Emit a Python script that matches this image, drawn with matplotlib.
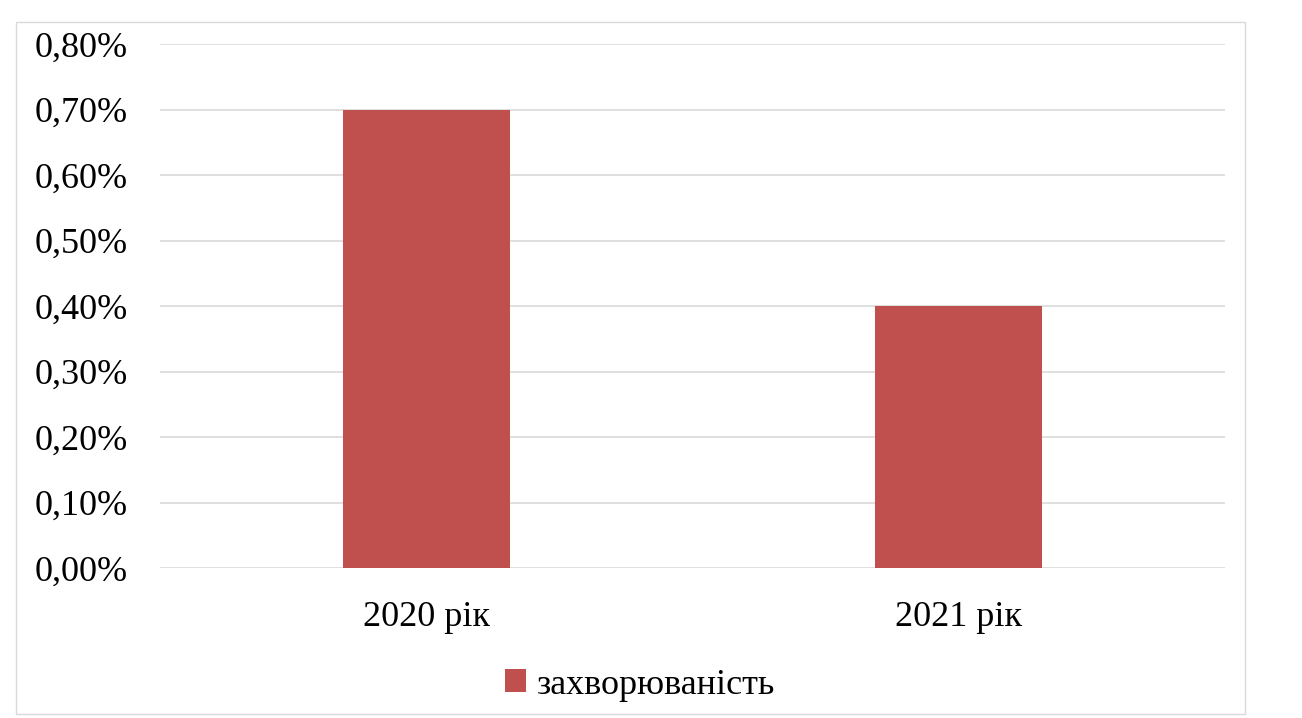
import matplotlib
matplotlib.use("Agg")
import matplotlib.pyplot as plt
from matplotlib.ticker import FuncFormatter

categories = ["2020 рік", "2021 рік"]
values = [0.70, 0.40]  # percent
series_name = "захворюваність"
yticks = [0.0, 0.1, 0.2, 0.3, 0.4, 0.5, 0.6, 0.7, 0.8]

plt.rcParams['font.family'] = ['Liberation Serif', 'DejaVu Serif']

fig = plt.figure(figsize=(13.02, 7.18), dpi=100)
fig.patch.set_facecolor('white')
ax = fig.add_axes([160/1302, (718-568)/718, (1225-160)/1302, (568-44)/718])

x = list(range(len(categories)))
ax.bar(x, values, width=0.314, color='#c0504d', label=series_name, zorder=3)
ax.set_xlim(-0.5, 1.5)
ax.set_ylim(0, 0.8)
ax.set_yticks(yticks)
ax.yaxis.set_major_formatter(FuncFormatter(lambda v, p: f"{v:.2f}%".replace('.', ',')))
ax.set_xticks(x)
ax.set_xticklabels(categories)
ax.grid(axis='y', color='#d9d9d9', linewidth=1.2, zorder=0)
for s in ax.spines.values():
    s.set_visible(False)
ax.tick_params(axis='both', length=0, labelsize=26, colors='black')
ax.tick_params(axis='y', pad=23)
ax.tick_params(axis='x', pad=24)

leg = fig.legend(loc='center', bbox_to_anchor=(640/1302, 1 - 685/718), frameon=False,
                 fontsize=26, handlelength=0.6, handleheight=0.6, handletextpad=0.3)

# faint chart-area border
fig.add_artist(plt.Rectangle((16/1302, 0.005), (1245-16)/1302, 0.965, transform=fig.transFigure,
                             fill=False, edgecolor='#d9d9d9', linewidth=1.0))

fig.savefig("out.png", dpi=100, facecolor='white')
